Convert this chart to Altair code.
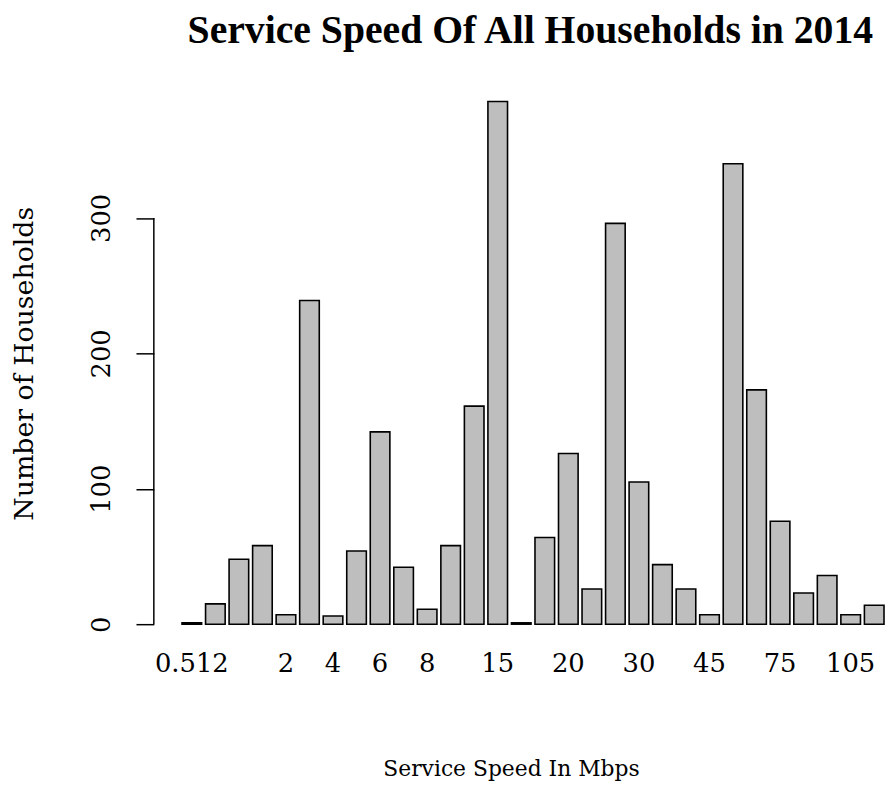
import altair as alt
import pandas as pd

speeds = ["0.512", "0.768", "1", "1.5", "2", "3", "4", "5", "6", "7",
          "8", "10", "12", "15", "16", "18", "20", "24", "25", "30",
          "35", "40", "45", "50", "60", "75", "90", "100", "105", "150"]
households = [1, 15, 48, 58, 7, 239, 6, 54, 142, 42,
              11, 58, 161, 386, 1, 64, 126, 26, 296, 105,
              44, 26, 7, 340, 173, 76, 23, 36, 7, 14]
shown_labels = ["0.512", "2", "4", "6", "8", "15", "20", "30", "45", "75", "105"]
y_ticks = [0, 100, 200, 300]

df = pd.DataFrame({"speed": speeds, "count": households})
axis_df = pd.DataFrame({"lo": [y_ticks[0]], "hi": [y_ticks[-1]]})

x_scale = alt.Scale(domain=speeds, paddingInner=0.1667, paddingOuter=0.62,
                    align=0.966, round=False)
y_scale = alt.Scale(domain=[0, 400], nice=False, zero=True)

bars = alt.Chart(df).mark_bar(
    fill="#bebebe", stroke="black", strokeWidth=1.6
).encode(
    x=alt.X("speed:N", sort=speeds, scale=x_scale,
            axis=alt.Axis(values=shown_labels, labelAngle=0, domain=False, ticks=False,
                          labelPadding=27, labelFontSize=26, labelFont="DejaVu Serif",
                          labelColor="black", labelBaseline="top",
                          title="Service Speed In Mbps", titleFont="DejaVu Serif",
                          titleFontSize=22, titleFontWeight="normal", titleColor="black",
                          titleX=360, titleY=153, titleBaseline="alphabetic",
                          titleAnchor="start", titleAlign="center")),
    y=alt.Y("count:Q", scale=y_scale,
            axis=alt.Axis(values=y_ticks, domain=False, tickSize=18, tickWidth=1.5,
                          tickColor="black", labelAngle=-90, labelAlign="center",
                          labelBaseline="alphabetic", labelPadding=27,
                          labelFontSize=26, labelFont="DejaVu Serif", labelColor="black",
                          grid=False, title="Number of Households",
                          titleFont="DejaVu Serif", titleFontSize=27,
                          titleFontWeight="normal", titleColor="black",
                          titleAngle=-90, titleX=-122, titleY=283,
                          titleAlign="center", titleBaseline="alphabetic")),
)

axis_line = alt.Chart(axis_df).mark_rule(color="black", strokeWidth=1.5).encode(
    y=alt.Y("lo:Q", scale=y_scale),
    y2="hi:Q",
    x=alt.value(0),
)

chart = alt.layer(bars, axis_line).properties(
    width=737,
    height=546,
    autosize=alt.AutoSizeParams(type="none"),
    padding={"left": 147, "top": 72, "right": 0, "bottom": 158},
    title=alt.TitleParams(
        "Service Speed Of All Households in 2014",
        font="Liberation Serif", fontSize=40, fontWeight="bold", color="black",
        anchor="middle", frame="group", dx=11, dy=38, offset=38, baseline="alphabetic",
    ),
    background="white",
).configure_view(stroke=None)

chart.save("out.html", embed_options={"renderer": "svg", "actions": False})
